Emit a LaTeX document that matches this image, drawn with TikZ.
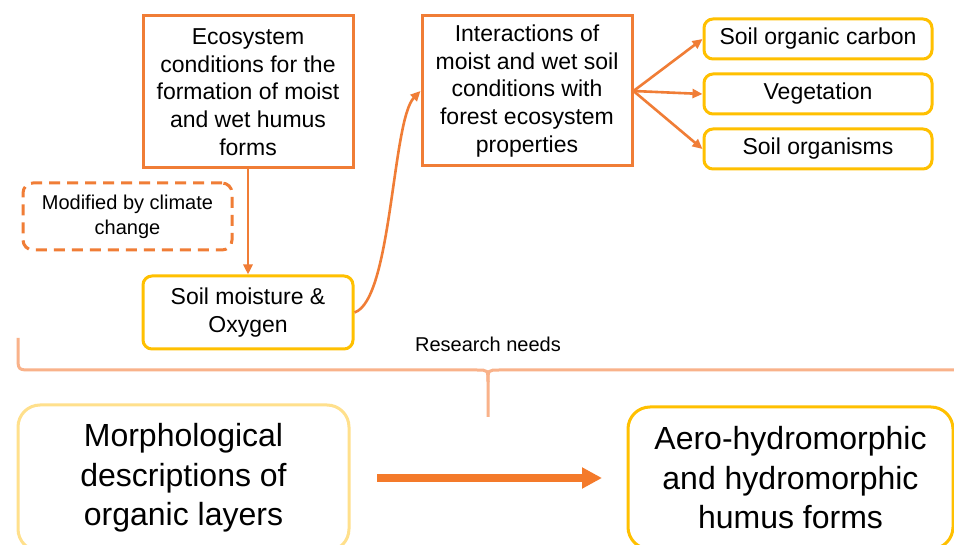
\documentclass[tikz,border=0pt]{standalone}
\usepackage{fontspec}
\setmainfont{Liberation Sans}
\usetikzlibrary{arrows.meta}
\definecolor{orangeC}{HTML}{F07D36}
\definecolor{yellowC}{HTML}{FFC000}
\definecolor{lightY}{HTML}{FFE08C}
\definecolor{braceC}{HTML}{F9B28A}
\definecolor{bigarrowC}{HTML}{F47A2A}
\tikzset{
  box/.style={draw, line width=3pt, align=center, inner sep=0pt,
    font=\fontsize{23}{27.7}\selectfont},
  obox/.style={box, draw=orangeC},
  ybox/.style={box, draw=yellowC, rounded corners=9pt},
  dbox/.style={draw=orangeC, line width=3pt, rounded corners=10pt,
    dash pattern=on 11pt off 7pt, align=center, inner sep=0pt,
    font=\fontsize{20}{25}\selectfont},
  bbox/.style={draw, line width=3pt, rounded corners=22pt, align=center,
    inner sep=0pt, font=\fontsize{32}{39.5}\selectfont},
  arr/.style={draw=orangeC, line width=2.6pt, -{Triangle[length=10pt,width=9pt]}},
  bigarr/.style={draw=bigarrowC, line width=8pt, -{Triangle[length=20pt,width=20pt]}},
  bracestyle/.style={draw=braceC, line width=3pt},
}
\begin{document}
\begin{tikzpicture}[x=1pt,y=-1pt]
\clip (0,0) rectangle (954,545);
\fill[white] (0,0) rectangle (954,545);

\node[obox, minimum width=210pt, minimum height=152pt] (eco) at (248,92)
  {Ecosystem\\conditions for the\\formation of moist\\and wet humus\\forms};
\node[dbox, minimum width=209pt, minimum height=67pt] (clim) at (127.5,216.5)
  {Modified by climate\\change};
\node[ybox, minimum width=210pt, minimum height=73pt] (soil) at (248,312.5)
  {Soil moisture \&\\Oxygen};
\node[obox, minimum width=210pt, minimum height=150pt] (inter) at (527,91)
  {Interactions of\\moist and wet soil\\conditions with\\forest ecosystem\\properties};
\node[ybox, minimum width=228pt, minimum height=40pt] (soc) at (818,39) {Soil organic carbon};
\node[ybox, minimum width=228pt, minimum height=40pt] (veg) at (818,94) {Vegetation};
\node[ybox, minimum width=228pt, minimum height=40pt] (org) at (818,149) {Soil organisms};

\draw[arr] (eco.south) -- (soil.north);
\draw[arr] (soil.east) .. controls (392,300) and (392,120) .. (inter.west);
\draw[arr] (inter.east) -- (soc.west);
\draw[arr] (inter.east) -- (veg.west);
\draw[arr] (inter.east) -- (org.west);

% brace
\coordinate (bl) at (18,338);
\coordinate (bm) at (488,417);
\coordinate (br) at (960,370);
\draw[bracestyle] (bl) -- (18,356) .. controls (18,370) .. (32,370) -- (477,370)
  .. controls (488,370) .. (488,382) -- (bm);
\draw[bracestyle] (br) -- (499,370) .. controls (488,370) .. (488,382);
\node[anchor=base, font=\fontsize{20}{24}\selectfont, inner sep=0pt] (rn) at (488,352) {Research needs};

\node[bbox, draw=lightY, minimum width=331pt, minimum height=146pt] (morph) at (183.5,478)
  {Morphological\\descriptions of\\organic layers};
\node[bbox, draw=yellowC, minimum width=325pt, minimum height=142pt] (aero) at (790.5,478)
  {Aero-hydromorphic\\and hydromorphic\\humus forms};
\draw[bigarr, shorten <=26.5pt, shorten >=24.5pt] (morph.east) -- (aero.west);
\end{tikzpicture}
\end{document}
